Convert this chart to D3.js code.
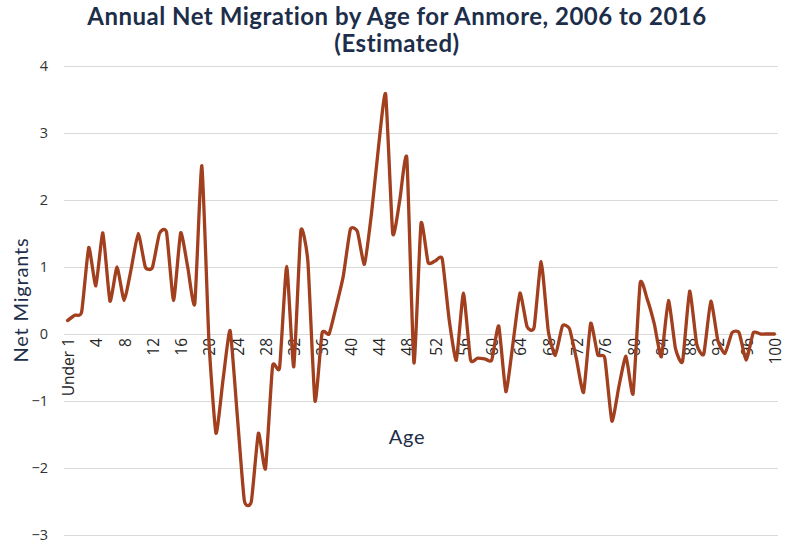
<!DOCTYPE html>
<html>
<head>
<meta charset="utf-8">
<script src="https://cdn.jsdelivr.net/npm/d3@7"></script>
<style>
  html, body { margin: 0; padding: 0; background: #ffffff; }
  svg { display: block; }
</style>
</head>
<body>
<svg id="chart" width="785" height="546"></svg>
<script>
// Ages 0 (Under 1) through 100
const ages = d3.range(0, 101);

// Estimated annual net migrants for each single year of age
const netMigrants = [
  0.20, 0.28, 0.33, 1.29, 0.72, 1.51, 0.49, 1.00, 0.50, 0.97,
  1.50, 1.00, 0.99, 1.50, 1.52, 0.50, 1.51, 1.00, 0.45, 2.51,
  -0.10, -1.48, -0.68, 0.05, -1.20, -2.48, -2.50, -1.48, -2.01, -0.48,
  -0.50, 1.01, -0.49, 1.54, 1.08, -1.00, 0.01, 0.00, 0.41, 0.86,
  1.56, 1.53, 1.04, 1.80, 2.80, 3.58, 1.50, 2.00, 2.62, -0.43,
  1.65, 1.07, 1.09, 1.12, 0.20, -0.39, 0.61, -0.38, -0.36, -0.37,
  -0.39, 0.12, -0.86, -0.15, 0.61, 0.11, 0.10, 1.08, 0.05, -0.32,
  0.12, 0.08, -0.38, -0.87, 0.16, -0.31, -0.36, -1.30, -0.78, -0.33,
  -0.89, 0.76, 0.52, 0.15, -0.34, 0.50, -0.22, -0.41, 0.64, -0.15,
  -0.30, 0.49, -0.10, -0.29, 0.02, 0.02, -0.39, 0.02, 0.00, 0.00,
  0.00
];

// Labelled ages along the category axis
const xTickAges = [0, 4, 8, 12, 16, 20, 24, 28, 32, 36, 40, 44, 48, 52, 56, 60, 64, 68, 72, 76, 80, 84, 88, 92, 96, 100];
const yTicks = [-3, -2, -1, 0, 1, 2, 3, 4];

const titleLines = ["Annual Net Migration by Age for Anmore, 2006 to 2016", "(Estimated)"];
const yTitle = "Net Migrants";
const xTitle = "Age";

const svg = d3.select("#chart");
const plot = { left: 64, right: 778, top: 66, bottom: 535 };

const x = d3.scaleBand().domain(ages).range([plot.left, plot.right]).paddingInner(0).paddingOuter(0);
const xc = a => x(a) + x.bandwidth() / 2;
const y = d3.scaleLinear().domain([-3, 4]).range([plot.bottom, plot.top]);

const navy = "#1d2e4a";

// Horizontal gridlines
svg.append("g")
  .selectAll("line")
  .data(yTicks)
  .join("line")
  .attr("x1", plot.left)
  .attr("x2", plot.right)
  .attr("y1", d => Math.round(y(d)) + 0.5)
  .attr("y2", d => Math.round(y(d)) + 0.5)
  .attr("stroke", "#d9d9d9")
  .attr("stroke-width", 1.2);

// Value axis labels
const yAxis = svg.append("g")
  .attr("transform", `translate(${plot.left - 16},0)`)
  .call(d3.axisLeft(y).tickValues(yTicks).tickSize(0).tickPadding(0).tickFormat(d3.format("d")));
yAxis.select(".domain").remove();
yAxis.selectAll("text")
  .attr("fill", "#333333")
  .style("font-family", "'Open Sans', 'Noto Sans', sans-serif")
  .style("font-size", "14.5px");

// Category axis labels, rotated and hung from the zero line
const xAxis = svg.append("g")
  .attr("transform", `translate(0,${y(0)})`)
  .call(d3.axisBottom(x).tickValues(xTickAges).tickSize(0).tickPadding(0)
    .tickFormat(d => d === 0 ? "Under 1" : String(d)));
xAxis.select(".domain").remove();
xAxis.selectAll("text")
  .attr("transform", "translate(1,4) rotate(-90)")
  .attr("text-anchor", "end")
  .attr("x", 0)
  .attr("y", 0)
  .attr("dy", "0.35em")
  .attr("fill", "#262626")
  .style("font-family", "'Open Sans', 'Noto Sans', sans-serif")
  .style("font-size", "15.5px");

// Smoothed migration line
const line = d3.line()
  .x((d, i) => xc(ages[i]))
  .y(d => y(d))
  .curve(d3.curveCardinal.tension(0.5));

svg.append("path")
  .datum(netMigrants)
  .attr("d", line)
  .attr("fill", "none")
  .attr("stroke", "#a13f1e")
  .attr("stroke-width", 3.3)
  .attr("stroke-linejoin", "round")
  .attr("stroke-linecap", "round");

// Title
const title = svg.append("text")
  .attr("text-anchor", "middle")
  .attr("fill", navy)
  .style("font-family", "Lato, 'Open Sans', sans-serif")
  .style("font-weight", "bold")
  .style("font-size", "24px")
  .style("letter-spacing", "0.5px");
title.selectAll("tspan")
  .data(titleLines)
  .join("tspan")
  .attr("x", 397)
  .attr("y", (d, i) => i === 0 ? 25 : 52)
  .text(d => d);

// Axis titles
svg.append("text")
  .attr("transform", `translate(28,${300}) rotate(-90)`)
  .attr("text-anchor", "middle")
  .attr("fill", navy)
  .style("font-family", "Lato, 'Open Sans', sans-serif")
  .style("font-size", "20px")
  .style("letter-spacing", "0.8px")
  .text(yTitle);

svg.append("text")
  .attr("x", 407)
  .attr("y", 444)
  .attr("text-anchor", "middle")
  .attr("fill", navy)
  .style("font-family", "Lato, 'Open Sans', sans-serif")
  .style("font-size", "20px")
  .style("letter-spacing", "0.8px")
  .text(xTitle);
</script>
</body>
</html>
